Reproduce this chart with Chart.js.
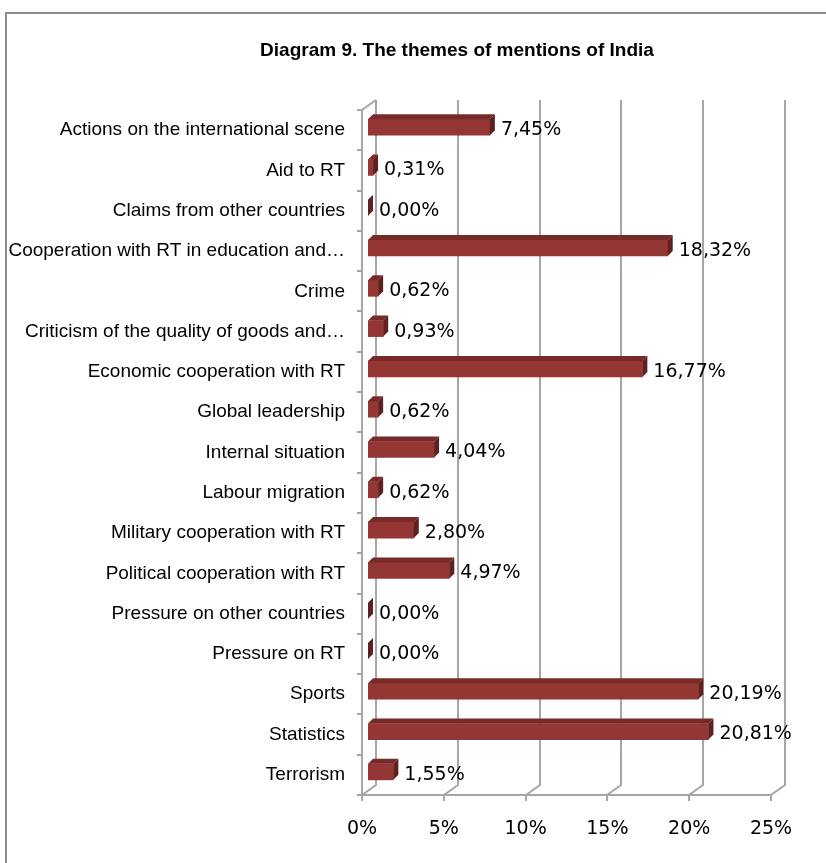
<!DOCTYPE html>
<html>
<head>
<meta charset="utf-8">
<script src="https://cdn.jsdelivr.net/npm/chart.js@4"></script>
<style>
  body { margin: 0; background: #fff; }
  canvas { display: block; }
</style>
</head>
<body>
<canvas id="themesChart" width="826" height="863"></canvas>
<script>
const chartTitle = 'Diagram 9. The themes of mentions of India';
const categories = [
    'Actions on the international scene',
    'Aid to RT',
    'Claims from other countries',
    'Cooperation with RT in education and…',
    'Crime',
    'Criticism of the quality of goods and…',
    'Economic cooperation with RT',
    'Global leadership',
    'Internal situation',
    'Labour migration',
    'Military cooperation with RT',
    'Political cooperation with RT',
    'Pressure on other countries',
    'Pressure on RT',
    'Sports',
    'Statistics',
    'Terrorism'
];
const shares = [7.45, 0.31, 0, 18.32, 0.62, 0.93, 16.77, 0.62, 4.04, 0.62, 2.80, 4.97, 0, 0, 20.19, 20.81, 1.55];
const xTicks = [0, 5, 10, 15, 20, 25];

// fake 3D: back wall offset, bar depth, bar shift from front plane
const wallDx = 14, wallDy = 10;
const depthX = 5, depthY = 5;
const shiftX = 6, shiftY = -3;

function pct(v) {
    return v.toFixed(2).replace('.', ',') + '%';
}

const wall3d = {
    id: 'wall3d',
    beforeDraw(chart) {
        const ctx = chart.ctx;
        ctx.save();
        ctx.fillStyle = '#fff';
        ctx.fillRect(0, 0, chart.width, chart.height);
        ctx.strokeStyle = '#8c8c8c';
        ctx.lineWidth = 2;
        ctx.strokeRect(6, 13, chart.width + 20, chart.height + 20);
        ctx.restore();
    },
    beforeDatasetsDraw(chart) {
        const { ctx, chartArea, scales } = chart;
        const { left, right, top, bottom } = chartArea;
        ctx.save();
        ctx.strokeStyle = '#a6a6a6';
        ctx.lineWidth = 2;
        ctx.beginPath();
        // back wall gridlines + floor diagonals + tick marks
        scales.x.ticks.forEach(t => {
            const px = Math.round(scales.x.getPixelForValue(t.value));
            ctx.moveTo(px + wallDx, top - wallDy);
            ctx.lineTo(px + wallDx, bottom - wallDy);
            ctx.lineTo(px, bottom);
            ctx.lineTo(px, bottom + 6);
        });
        // side wall edge
        ctx.moveTo(left + wallDx, top - wallDy);
        ctx.lineTo(left, top);
        ctx.lineTo(left, bottom);
        ctx.lineTo(right, bottom);
        // category ticks
        for (let i = 0; i <= categories.length; i++) {
            const yy = Math.round(top + (bottom - top) * i / categories.length);
            ctx.moveTo(left - 5, yy);
            ctx.lineTo(left, yy);
        }
        ctx.stroke();
        ctx.restore();

        // bars are drawn a bit into the depth
        ctx.save();
        ctx.translate(shiftX, shiftY);
    },
    afterDatasetsDraw(chart) {
        const ctx = chart.ctx;
        ctx.restore();

        const meta = chart.getDatasetMeta(0);
        meta.data.forEach((bar, i) => {
            const x0 = bar.base + shiftX;
            const x1 = bar.x + shiftX;
            const y0 = bar.y - bar.height / 2 + shiftY;
            const y1 = bar.y + bar.height / 2 + shiftY;

            // top face
            ctx.fillStyle = '#772b29';
            ctx.beginPath();
            ctx.moveTo(x0, y0);
            ctx.lineTo(x0 + depthX, y0 - depthY);
            ctx.lineTo(x1 + depthX, y0 - depthY);
            ctx.lineTo(x1, y0);
            ctx.closePath();
            ctx.fill();

            // side face
            ctx.fillStyle = '#5f2120';
            ctx.beginPath();
            ctx.moveTo(x1, y0);
            ctx.lineTo(x1 + depthX, y0 - depthY);
            ctx.lineTo(x1 + depthX, y1 - depthY);
            ctx.lineTo(x1, y1);
            ctx.closePath();
            ctx.fill();

            // value label
            ctx.fillStyle = '#000';
            ctx.font = '19px "DejaVu Sans"';
            ctx.textAlign = 'left';
            ctx.textBaseline = 'middle';
            ctx.fillText(pct(shares[i]), x1 + depthX + 6, bar.y);
        });
    },
    afterDraw(chart) {
        // title, centred like the original (not over the whole canvas)
        const ctx = chart.ctx;
        ctx.save();
        ctx.fillStyle = '#000';
        ctx.font = 'bold 19px "Liberation Sans"';
        ctx.textAlign = 'center';
        ctx.textBaseline = 'middle';
        ctx.fillText(chartTitle, 457, 51);
        ctx.restore();
    }
};

const ctx = document.getElementById('themesChart').getContext('2d');
new Chart(ctx, {
    type: 'bar',
    data: {
        labels: categories,
        datasets: [{
            data: shares,
            backgroundColor: '#943634',
            borderWidth: 0,
            barThickness: 16
        }]
    },
    options: {
        indexAxis: 'y',
        responsive: false,
        animation: false,
        events: [],
        layout: {
            padding: { top: 110, right: 55, bottom: 0, left: 0 }
        },
        plugins: {
            legend: { display: false },
            tooltip: { enabled: false },
            title: { display: false }
        },
        scales: {
            x: {
                min: 0,
                max: 25,
                afterBuildTicks(scale) {
                    scale.ticks = xTicks.map(v => ({ value: v }));
                },
                afterFit(scale) {
                    scale.height = 68;
                },
                grid: { display: false, drawTicks: false },
                border: { display: false },
                ticks: {
                    padding: 23,
                    color: '#000',
                    font: { family: 'DejaVu Sans', size: 19 },
                    callback: v => v + '%'
                }
            },
            y: {
                afterFit(scale) {
                    scale.width = 362;
                },
                grid: { display: false, drawTicks: false },
                border: { display: false },
                ticks: {
                    padding: 17,
                    color: '#000',
                    font: { family: 'Liberation Sans', size: 19 }
                }
            }
        }
    },
    plugins: [wall3d]
});
</script>
</body>
</html>
